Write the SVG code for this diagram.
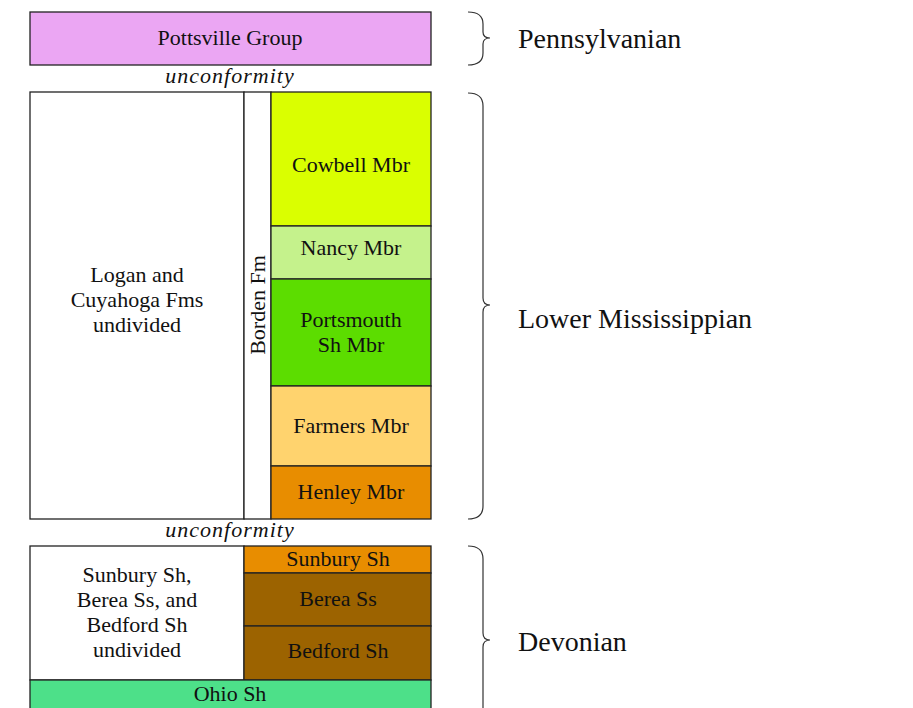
<svg xmlns="http://www.w3.org/2000/svg" width="913" height="708" viewBox="0 0 913 708">
<style>
.box{stroke:#222;stroke-width:1.3}
.t{font-family:"Liberation Serif","DejaVu Serif",serif;font-size:22px;fill:#111;text-anchor:middle}
.i{font-style:italic;letter-spacing:1px}
.era{font-family:"Liberation Serif","DejaVu Serif",serif;font-size:28px;fill:#111}
.brace{fill:none;stroke:#333;stroke-width:1.2}
</style>
<rect width="913" height="708" fill="#fff"/>
<g id="pottsville"><rect class="box" x="30" y="12" width="401" height="53" fill="#eba6f3"/><text class="t" x="230" y="45">Pottsville Group</text></g>
<g id="unconf1"><text class="t i" x="230" y="83">unconformity</text></g>
<g id="logan"><rect class="box" x="30" y="92" width="214" height="427" fill="#fff"/><text class="t" x="137" y="282">Logan and</text><text class="t" x="137" y="307">Cuyahoga Fms</text><text class="t" x="137" y="332">undivided</text></g>
<g id="borden"><rect class="box" x="244" y="92" width="27" height="427" fill="#fff"/><text class="t" transform="translate(265,305) rotate(-90)">Borden Fm</text></g>
<g id="cowbell"><rect class="box" x="271" y="92" width="160" height="134" fill="#daff00"/><text class="t" x="351" y="172">Cowbell Mbr</text></g>
<g id="nancy"><rect class="box" x="271" y="226" width="160" height="53" fill="#c5f28c"/><text class="t" x="351" y="255">Nancy Mbr</text></g>
<g id="portsmouth"><rect class="box" x="271" y="279" width="160" height="107" fill="#5cdd00"/><text class="t" x="351" y="327">Portsmouth</text><text class="t" x="351" y="352">Sh Mbr</text></g>
<g id="farmers"><rect class="box" x="271" y="386" width="160" height="80" fill="#ffd36e"/><text class="t" x="351" y="433">Farmers Mbr</text></g>
<g id="henley"><rect class="box" x="271" y="466" width="160" height="53" fill="#e88d00"/><text class="t" x="351" y="499">Henley Mbr</text></g>
<g id="unconf2"><text class="t i" x="230" y="537">unconformity</text></g>
<g id="sbb-undiv"><rect class="box" x="30" y="546" width="214" height="134" fill="#fff"/><text class="t" x="137" y="582">Sunbury Sh,</text><text class="t" x="137" y="607">Berea Ss, and</text><text class="t" x="137" y="632">Bedford Sh</text><text class="t" x="137" y="657">undivided</text></g>
<g id="sunbury"><rect class="box" x="244" y="546" width="187" height="27" fill="#e88d00"/><text class="t" x="338" y="566">Sunbury Sh</text></g>
<g id="berea"><rect class="box" x="244" y="573" width="187" height="53" fill="#9c6300"/><text class="t" x="338" y="606">Berea Ss</text></g>
<g id="bedford"><rect class="box" x="244" y="626" width="187" height="54" fill="#9c6300"/><text class="t" x="338" y="658">Bedford Sh</text></g>
<g id="ohio"><rect class="box" x="30" y="680" width="401" height="60" fill="#4de089"/><text class="t" x="230" y="701">Ohio Sh</text></g>
<g id="braces">
<path class="brace" d="M468,12 Q483,12 483,24 V32 Q483,38 490,38 Q483,38 483,44 V53 Q483,65 468,65"/>
<path class="brace" d="M468,93 Q483,93 483,106 V298 Q483,305 490,305 Q483,305 483,312 V506 Q483,519 468,519"/>
<path class="brace" d="M468,546 Q483,546 483,559 V633 Q483,640 490,640 Q483,640 483,647 V736 Q483,748 468,748"/>
</g>
<g id="eras">
<text class="era" x="518" y="48">Pennsylvanian</text>
<text class="era" x="518" y="328">Lower Mississippian</text>
<text class="era" x="518" y="651">Devonian</text>
</g>
</svg>
